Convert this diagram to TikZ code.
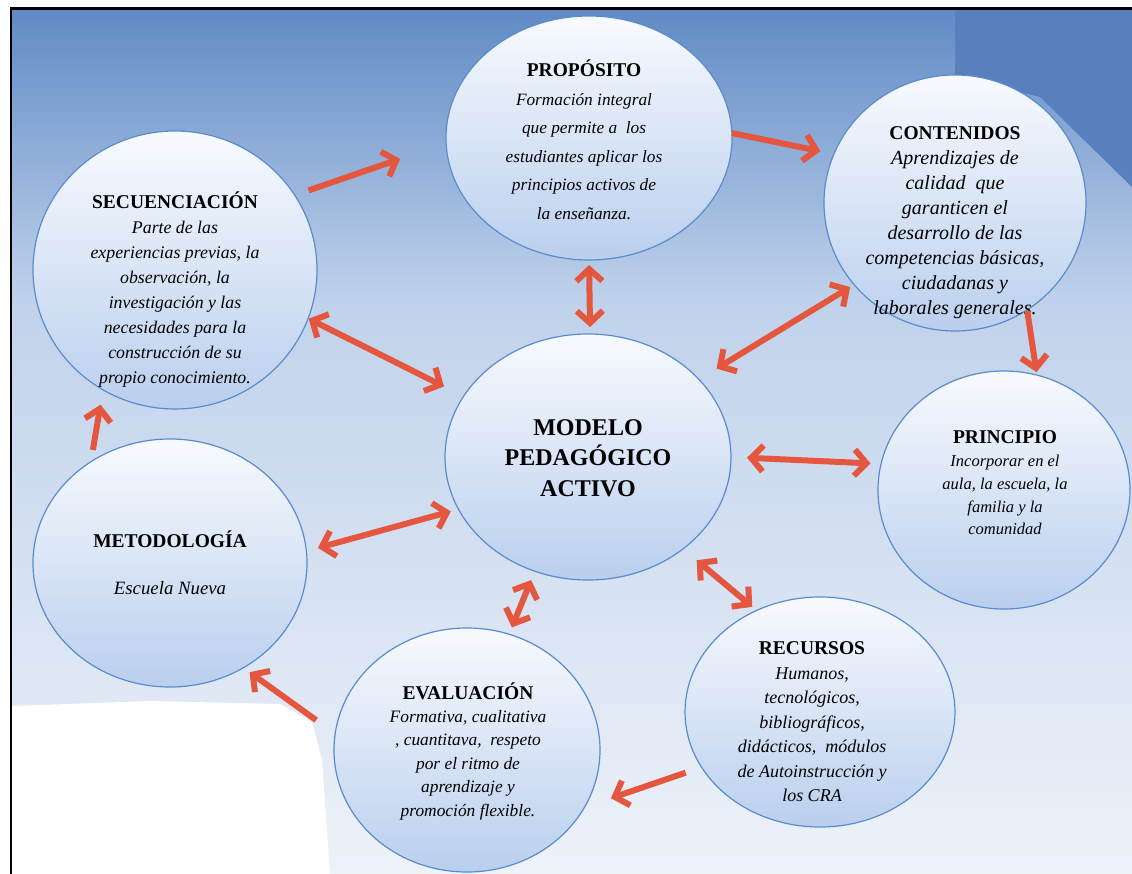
\documentclass[tikz,border=0pt]{standalone}
\usepackage{fontspec}
\setmainfont{Liberation Serif}
\usetikzlibrary{shapes.geometric,arrows.meta}
\definecolor{arrred}{RGB}{228,86,62}
\definecolor{bgA}{RGB}{96,138,197}
\definecolor{bgB}{RGB}{192,210,235}
\definecolor{bgC}{RGB}{238,242,249}
\definecolor{bgDark}{RGB}{88,128,188}
\definecolor{bubtop}{RGB}{248,250,254}
\definecolor{bubbot}{RGB}{186,207,238}
\definecolor{bubline}{RGB}{88,140,206}
\newcommand\bubtitle[1]{{\upshape\bfseries\fontsize{19.5}{19.5}\selectfont #1}}
\begin{document}
\begin{tikzpicture}[x=1pt,y=1pt,
  bub/.style={ellipse, draw=bubline, line width=1.2pt, top color=bubtop, bottom color=bubbot, inner sep=0pt, outer sep=0pt},
  txt/.style={align=center, text=black, inner sep=0pt, outer sep=0pt},
  arr/.style={draw=arrred, line width=6pt, -{Straight Barb[length=12pt,width=26pt]}},
  darr/.style={draw=arrred, line width=6pt, {Straight Barb[length=12pt,width=26pt]}-{Straight Barb[length=12pt,width=26pt]}},
]
\useasboundingbox (0,0) rectangle (1132,-874);
% background
\fill[white] (0,0) rectangle (1132,-874);
\shade[top color=bgA, bottom color=bgB] (11,-8) rectangle (1132,-300);
\shade[top color=bgB, bottom color=bgC] (11,-300) rectangle (1132,-874);
\fill[bgDark] (955,-8) -- (1132,-8) -- (1132,-187) -- (1040,-97) -- (955,-76) -- cycle;
\fill[white] (11,-706) -- (150,-701) -- (280,-704) -- (312,-722) -- (322,-760) -- (330,-874) -- (11,-874) -- cycle;
\draw[black, line width=2.5pt] (11,-874) -- (11,-8.5) -- (1132,-8.5);

% bubbles
\node[bub, minimum width=286pt, minimum height=244pt] (prop) at (589,-138) {};
\node[bub, minimum width=262pt, minimum height=256pt] (cont) at (955,-203) {};
\node[bub, minimum width=284pt, minimum height=278pt] (sec) at (175,-270) {};
\node[bub, minimum width=286pt, minimum height=246pt] (mod) at (588,-457) {};
\node[bub, minimum width=252pt, minimum height=238pt] (prin) at (1004,-490) {};
\node[bub, minimum width=274pt, minimum height=248pt] (met) at (170,-563) {};
\node[bub, minimum width=266pt, minimum height=244pt] (eval) at (467,-750) {};
\node[bub, minimum width=270pt, minimum height=230pt] (rec) at (820,-712) {};

% texts
\node[txt, font=\itshape\fontsize{17.3}{28.5}\selectfont] (propt) at (584,-140) {\bubtitle{PROPÓSITO}\\Formación integral\\que permite a\ \ los\\estudiantes aplicar los\\principios activos de\\la enseñanza.};
\node[txt, font=\itshape\fontsize{17.8}{25}\selectfont] (sect) at (175,-290) {\bubtitle{SECUENCIACIÓN}\\Parte de las\\experiencias previas, la\\observación, la\\investigación y las\\necesidades para la\\construcción de su\\propio conocimiento.};
\node[txt, font=\itshape\fontsize{20}{25}\selectfont] (contt) at (955,-223) {\bubtitle{CONTENIDOS}\\Aprendizajes de\\calidad\ \ que\\garanticen el\\desarrollo de las\\competencias básicas,\\ciudadanas y\\laborales generales.};
\node[txt, font=\itshape\fontsize{16.5}{22.8}\selectfont] (print) at (1005,-483) {\bubtitle{PRINCIPIO}\\Incorporar en el\\aula, la escuela, la\\familia y la\\comunidad};
\node[txt, font=\itshape\fontsize{18.8}{24}\selectfont] (mett) at (170,-563) {\bubtitle{METODOLOGÍA}\\[23pt]Escuela Nueva};
\node[txt, font=\itshape\fontsize{17.4}{23.4}\selectfont] (evalt) at (468,-751) {\bubtitle{EVALUACIÓN}\\Formativa, cualitativa\\, cuantitava,\ \ respeto\\por el ritmo de\\aprendizaje y\\promoción flexible.};
\node[txt, font=\itshape\fontsize{18}{24.5}\selectfont] (rect) at (812,-722) {\bubtitle{RECURSOS}\\Humanos,\\tecnológicos,\\bibliográficos,\\didácticos,\ \ módulos\\de Autoinstrucción y\\los CRA};
\node[txt, font=\bfseries\fontsize{24}{30.5}\selectfont] (modt) at (588,-458) {MODELO\\PEDAGÓGICO\\ACTIVO};

% arrows
\draw[arr, shorten <=14.6pt, shorten >=48.6pt] (sec.32.4) -- (prop.182.8);
\draw[arr, shorten >=13.9pt] (prop.2.85) -- (cont.158.5);
\draw[arr, shorten <=1.2pt, shorten >=3pt] (cont.304.9) -- (prin.74.3);
\draw[darr, shorten <=5pt, shorten >=7pt] (prop.270.5) -- (mod.89.5);
\draw[darr, shorten <=4.7pt, shorten >=20.6pt] (cont.219) -- (mod.35.4);
\draw[darr, shorten <=0.6pt, shorten >=21.9pt] (sec.340.3) -- (mod.154.9);
\draw[darr, shorten <=16pt, shorten >=10.6pt] (mod.0.3) -- (prin.168.9);
\draw[darr, shorten <=12pt, shorten >=8.1pt] (met.5) -- (mod.202.3);
\draw[darr, shorten <=9.6pt, shorten >=7.5pt] (mod.245) -- (eval.70.5);
\draw[darr, shorten <=17.7pt, shorten >=5.6pt] (mod.316.2) -- (rec.122.1);
\draw[arr, shorten <=16.8pt, shorten >=28pt] (rec.205.3) -- (eval.334.8);
\draw[arr, shorten <=23.5pt, shorten >=7.6pt] (eval.173) -- (met.305.3);
\draw[arr, shorten <=12pt, shorten >=15pt] (met.128) -- (sec.239.3);
\end{tikzpicture}
\end{document}
